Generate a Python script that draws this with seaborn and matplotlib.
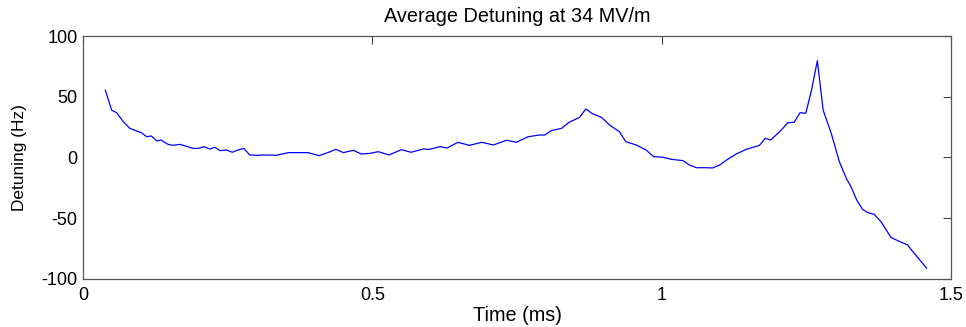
import numpy as np
import pandas as pd
import matplotlib
matplotlib.use("Agg")
import matplotlib.pyplot as plt
import seaborn as sns

time_ms = [0.0385, 0.0495, 0.058, 0.0696, 0.081, 0.0927, 0.101, 0.110, 0.118, 0.128,
           0.135, 0.147, 0.156, 0.167, 0.179, 0.190, 0.199, 0.209, 0.219, 0.228,
           0.237, 0.248, 0.258, 0.268, 0.278, 0.288, 0.300, 0.317, 0.334, 0.355,
           0.375, 0.389, 0.408, 0.424, 0.437, 0.450, 0.467, 0.481, 0.496, 0.510,
           0.529, 0.550, 0.567, 0.588, 0.598, 0.617, 0.629, 0.648, 0.668, 0.689,
           0.709, 0.732, 0.749, 0.769, 0.789, 0.798, 0.809, 0.827, 0.840, 0.858,
           0.869, 0.879, 0.896, 0.910, 0.927, 0.938, 0.956, 0.973, 0.986, 1.002,
           1.017, 1.037, 1.048, 1.060, 1.074, 1.088, 1.100, 1.112, 1.129, 1.146,
           1.169, 1.179, 1.188, 1.204, 1.218, 1.229, 1.239, 1.249, 1.259, 1.269,
           1.279, 1.293, 1.307, 1.319, 1.327, 1.337, 1.347, 1.356, 1.367, 1.379,
           1.396, 1.408, 1.425, 1.434, 1.445, 1.458]
detuning_hz = [55.6, 39.0, 36.9, 29.5, 24.0, 21.8, 20.4, 17.1, 17.7, 13.6,
               14.4, 10.8, 10.0, 10.8, 9.2, 7.5, 7.5, 8.9, 7.0, 8.4,
               5.6, 6.2, 4.3, 6.2, 7.5, 2.1, 1.8, 2.1, 1.8, 4.0,
               4.0, 4.0, 1.5, 4.2, 6.7, 4.0, 5.9, 2.9, 3.4, 4.8,
               2.1, 6.4, 4.3, 7.0, 6.7, 8.9, 7.8, 12.5, 10.0, 12.5,
               10.3, 14.2, 12.5, 17.1, 18.5, 18.5, 22.1, 24.0, 29.0, 33.0,
               40.0, 36.4, 33.0, 26.7, 21.2, 13.0, 10.3, 6.2, 0.7, 0.2,
               -1.5, -2.6, -6.2, -8.4, -8.4, -8.6, -6.2, -2.1, 2.9, 6.7,
               10.0, 15.8, 14.4, 21.2, 28.6, 29.0, 36.9, 36.4, 55.6, 79.7,
               39.0, 19.9, -3.4, -17.1, -24.0, -35.0, -42.6, -45.4, -46.7, -52.8,
               -65.7, -68.5, -72.0, -77.5, -83.8, -91.2]

x_ticks = [0, 0.5, 1, 1.5]
x_tick_labels = ["0", "0.5", "1", "1.5"]
y_ticks = [-100, -50, 0, 50, 100]
y_tick_labels = ["-100", "-50", "0", "50", "100"]

df = pd.DataFrame({"t": time_ms, "d": detuning_hz})

sns.set_style("white")
plt.rcParams["font.family"] = ["Liberation Sans", "DejaVu Sans"]
plt.rcParams["text.color"] = "black"
plt.rcParams["axes.labelcolor"] = "black"

fig = plt.figure(figsize=(9.66, 3.27), dpi=100)
ax = fig.add_axes([0.0859, 0.1468, 0.8986, 0.7431])
sns.lineplot(data=df, x="t", y="d", ax=ax, color="#0000ff", linewidth=0.9)

ax.set_xlim(0, 1.5)
ax.set_ylim(-100, 100)
ax.set_xticks(x_ticks)
ax.set_xticklabels(x_tick_labels)
ax.set_yticks(y_ticks)
ax.set_yticklabels(y_tick_labels)
ax.tick_params(direction="in", length=6, width=0.8, color="#404040",
               top=True, right=True, labelsize=13, labelcolor="black")
ax.tick_params(axis="x", pad=6)
ax.tick_params(axis="y", pad=4)
for s in ax.spines.values():
    s.set_visible(True)
    s.set_color("#555555")
    s.set_linewidth(0.9)

ax.set_xlabel("Time (ms)", fontsize=14.3, labelpad=1, color="black")
ax.set_ylabel("Detuning (Hz)", fontsize=12.4, labelpad=10, color="black")
ax.set_title("Average Detuning at 34 MV/m", fontsize=14.3, pad=10, color="black")

fig.savefig("out.png", dpi=100)
